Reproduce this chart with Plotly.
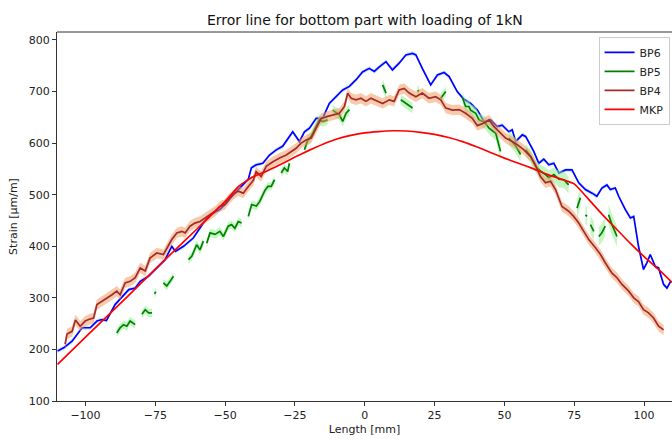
import plotly.graph_objects as go

# ---------------- data ----------------
BP6_x = [-110.0, -107.8, -104.8, -102.4, -101.2, -98.3, -95.9, -94.1, -92.5, -89.4, -86.4, -84.5,
         -82.2, -80.4, -77.4, -75.6, -73.3, -71.5, -69.1, -67.8, -64.9, -61.4, -57.8, -55.4, -51.9,
         -49.5, -47.1, -44.1, -41.7, -40.6, -38.9, -36.5, -34.1, -31.7, -29.4, -25.8, -23.4, -21.6,
         -19.8, -17.4, -15.1, -12.7, -10.3, -7.9, -5.5, -3.1, -0.8, 1.6, 3.4, 5.2, 7.6, 9.9, 12.3,
         14.7, 17.1, 18.3, 20.6, 23.6, 26.0, 28.4, 30.2, 33.1, 35.5, 37.9, 40.3, 42.7, 45.1, 47.4,
         49.2, 51.6, 52.8, 54.0, 56.4, 57.6, 60.5, 62.3, 64.1, 65.9, 67.7, 69.5, 71.9, 74.2, 76.6,
         79.0, 81.4, 83.1, 84.9, 86.7, 87.9, 89.7, 90.9, 93.3, 95.1, 96.3, 98.0, 99.8, 101.0, 102.2,
         104.0, 105.2, 107.0, 108.2, 109.5]
BP6_y = [197, 203, 216, 235, 242, 242, 255, 258, 256, 287, 306, 316,
         319, 332, 342, 352, 364, 374, 400, 390, 400, 416, 445, 461, 471,
         484, 500, 516, 530, 552, 558, 561, 577, 587, 594, 622, 603, 622,
         629, 648, 648, 677, 690, 703, 710, 723, 738, 745, 739, 748, 758, 742, 755,
         771, 774, 771, 745, 713, 732, 737, 729, 700, 685, 677, 664, 642, 645, 632,
         635, 622, 626, 603, 616, 613, 584, 561, 569, 558, 561, 542, 548, 548, 523,
         510, 503, 497, 513, 519, 510, 513, 497, 471, 455, 458, 400, 355, 368, 384,
         361, 358, 326, 319, 332]
BP6_spread = 4

BP4_x = [-107.3, -106.6, -104.8, -103.6, -101.9, -100.1, -98.9, -97.1, -95.9, -94.1, -92.3, -90.5,
         -88.8, -87.6, -85.8, -84.0, -82.2, -80.4, -78.6, -76.9, -74.5, -72.1, -69.1, -67.3, -65.5,
         -64.3, -62.6, -60.8, -59.0, -57.2, -55.4, -53.6, -51.9, -50.1, -48.3, -46.5, -45.3, -43.5,
         -41.7, -39.9, -38.9, -37.1, -35.3, -32.9, -30.5, -28.1, -24.6, -22.8, -21.0, -19.2, -17.4,
         -15.6, -13.3, -10.9, -9.1, -7.3, -6.1, -4.9, -3.1, -1.4, 0.4, 2.2, 4.6, 6.4, 8.8, 10.5,
         12.3, 14.1, 15.9, 18.3, 20.6, 23.0, 25.4, 27.2, 29.0, 31.4, 33.8, 36.1, 38.5, 40.3, 42.7,
         44.5, 46.3, 48.0, 50.4, 52.8, 54.6, 57.0, 59.4, 61.1, 62.9, 64.7, 66.5, 68.3, 70.6, 73.0,
         74.8, 76.6, 78.4, 80.2, 82.6, 84.4, 86.1, 88.5, 90.3, 92.1, 94.5, 96.3, 98.0, 99.8, 101.6,
         103.4, 105.2, 107.0]
BP4_y = [210, 230, 235, 257, 245, 255, 258, 261, 287, 293, 300, 306,
         313, 306, 329, 332, 339, 358, 352, 377, 387, 384, 413, 426, 429,
         426, 439, 445, 448, 455, 461, 468, 477, 481, 494, 503, 507, 503,
         516, 528, 545, 535, 555, 564, 571, 577, 590, 600, 606, 610, 629,
         648, 652, 655, 658, 671, 697, 687, 684, 687, 681, 687, 681, 677, 684, 681,
         703, 706, 697, 690, 697, 687, 690, 684, 668, 664, 665, 658, 648, 634, 639,
         645, 632, 622, 610, 603, 597, 587, 574, 558, 535, 523, 526, 510, 477, 468,
         458, 445, 429, 413, 397, 384, 368, 348, 339, 326, 313, 300, 293, 277, 271,
         261, 245, 238]
BP4_spread = 10

BP5_x = [-88.8, -87.6, -86.4, -85.2, -84.0, -82.2, None,
         -79.8, -78.6, -77.4, -76.2, None,
         -75.3, -74.8, None,
         -72.1, -70.9, -69.7, -68.5, None,
         -63.1, -61.9, -60.2, -59.0, -57.8, None,
         -56.6, -55.4, -53.6, -51.9, -50.6, -48.9, -47.7, -46.5, -45.3, -44.1, None,
         -41.7, -40.5, -38.8, -37.6, -35.8, -34.7, -33.5, -32.3, None,
         -29.9, -28.8, -27.6, -27.0, None,
         -21.6, -20.4, -19.2, -18.0, -16.3, -15.1, -13.3, None,
         -11.5, -9.1, -7.9, -6.7, -5.5, None,
         6.4, 7.6, None,
         12.9, 14.7, 16.5, 17.1, None,
         18.9, 19.4, None,
         27.2, 28.4, 29.0, None,
         35.0, 36.1, 37.3, 37.9, 39.7, 40.9, 43.0, 44.5, 46.9, 48.6, None,
         51.6, 54.0, 55.8, None,
         57.6, 59.4, 61.1, 62.9, 64.7, 65.9, 67.7, 69.5, 71.3, 73.0, None,
         76.0, 77.2, None,
         79.0, 79.6, None,
         80.8, 82.0, None,
         83.8, 84.9, 86.1, None,
         87.3, 88.5, 90.3]
BP5_y = [232, 242, 248, 245, 255, 248, None,
         268, 277, 271, 271, None,
         308, 312, None,
         329, 323, 332, 342, None,
         374, 381, 403, 393, 410, None,
         406, 426, 423, 429, 419, 439, 442, 435, 448, 445, None,
         458, 481, 478, 487, 508, 516, 516, 529, None,
         542, 552, 545, 561, None,
         587, 606, 613, 626, 645, 642, 645, None,
         664, 655, 642, 658, 665, None,
         713, 697, None,
         684, 677, 671, 668, None,
         700, 703, None,
         687, 697, 700, None,
         688, 671, 671, 664, 658, 645, 640, 629, 619, 584, None,
         610, 595, 578, None,
         587, 574, 555, 546, 539, 533, 539, 530, 529, 519, None,
         474, 494, None,
         461, 458, None,
         442, 429, None,
         419, 426, 439, None,
         461, 442, 419]
BP5_err = [8, 8, 8, 8, 8, 8, None,
           8, 8, 8, 8, None,
           8, 8, None,
           8, 8, 8, 8, None,
           8, 8, 8, 8, 8, None,
           8, 8, 8, 8, 8, 8, 8, 8, 8, 8, None,
           8, 8, 8, 8, 8, 8, 8, 8, None,
           8, 8, 8, 8, None,
           10, 10, 10, 10, 10, 10, 10, None,
           10, 10, 10, 10, 10, None,
           12, 12, None,
           10, 10, 10, 10, None,
           10, 10, None,
           10, 10, 10, None,
           12, 12, 12, 12, 12, 12, 12, 12, 14, 16, None,
           14, 14, 14, None,
           12, 12, 12, 12, 14, 14, 14, 16, 16, 16, None,
           18, 18, None,
           18, 18, None,
           18, 18, None,
           18, 18, 18, None,
           20, 20, 20]

MKP_x = [-110, -100, -90, -80, -70, -60, -50, -45, -40, -35, -30, -25, -20, -15, -10, -5, 0, 5,
         10, 15, 20, 25, 30, 35, 40, 45, 50, 55, 60, 65, 70, 75, 80, 85, 90, 95, 100, 105, 110]
MKP_y = [171, 224, 276, 329, 382, 434, 487, 517, 535, 546, 559, 573, 586, 598, 608, 615, 620, 622.5,
         624, 623.5, 621, 617, 611, 603, 593, 582, 571, 561, 551, 540, 531, 521, 492, 462, 434, 406,
         380, 356, 330]

X_TICKS = [-100, -75, -50, -25, 0, 25, 50, 75, 100]
Y_TICKS = [100, 200, 300, 400, 500, 600, 700, 800]


def band_polygon(xs, ys, es):
    """Closed polygons (one per gap-free segment) for the shaded error band."""
    px, py = [], []
    seg = []

    def flush(seg):
        if not seg:
            return
        sx = [s[0] for s in seg]
        up = [s[1] + s[2] for s in seg]
        lo = [s[1] - s[2] for s in seg]
        px.extend(sx + sx[::-1] + [sx[0], None])
        py.extend(up + lo[::-1] + [up[0], None])

    for x, y, e in zip(xs, ys, es):
        if y is None:
            flush(seg)
            seg = []
        else:
            seg.append((x, y, e))
    flush(seg)
    return px, py


fig = go.Figure()

# BP6
bx, by = band_polygon(BP6_x, BP6_y, [BP6_spread] * len(BP6_x))
fig.add_trace(go.Scatter(x=bx, y=by, fill="toself", mode="lines", line=dict(width=0),
                         fillcolor="rgba(150,200,255,0.45)", showlegend=False, hoverinfo="skip"))
fig.add_trace(go.Scatter(x=BP6_x, y=BP6_y, mode="lines", name="BP6",
                         line=dict(color="#0000ff", width=1.7)))

# BP5
bx, by = band_polygon(BP5_x, BP5_y, BP5_err)
fig.add_trace(go.Scatter(x=bx, y=by, fill="toself", mode="lines", line=dict(width=0),
                         fillcolor="rgba(144,238,144,0.55)", showlegend=False, hoverinfo="skip"))
fig.add_trace(go.Scatter(x=BP5_x, y=BP5_y, mode="lines", name="BP5", connectgaps=False,
                         line=dict(color="#008000", width=1.7)))

# BP4
bx, by = band_polygon(BP4_x, BP4_y, [BP4_spread] * len(BP4_x))
fig.add_trace(go.Scatter(x=bx, y=by, fill="toself", mode="lines", line=dict(width=0),
                         fillcolor="rgba(240,150,90,0.5)", showlegend=False, hoverinfo="skip"))
fig.add_trace(go.Scatter(x=BP4_x, y=BP4_y, mode="lines", name="BP4",
                         line=dict(color="#a52a2a", width=1.7)))

# MKP
fig.add_trace(go.Scatter(x=MKP_x, y=MKP_y, mode="lines", name="MKP",
                         line=dict(color="#ff0000", width=1.7, shape="spline", smoothing=0.4)))

font = "DejaVu Sans, Arial, sans-serif"
fig.update_layout(
    width=672, height=439,
    margin=dict(l=57, r=0, t=32, b=38),
    paper_bgcolor="white", plot_bgcolor="white",
    font=dict(family=font, size=11, color="#222"),
    title=dict(text="Error line for bottom part with loading of 1kN", x=0.543, xanchor="center",
               y=1 - 20 / 439, yanchor="middle", font=dict(size=14, color="#111")),
    xaxis=dict(range=[-110.2, 110], tickvals=X_TICKS, showgrid=False, zeroline=False,
               showline=True, linecolor="#333", linewidth=1, ticks="outside", ticklen=4,
               tickcolor="#333", title=dict(text="Length [mm]", standoff=4, font=dict(size=11))),
    yaxis=dict(range=[100, 815.5], tickvals=Y_TICKS, showgrid=False, zeroline=False,
               showline=True, linecolor="#333", linewidth=1, ticks="outside", ticklen=4,
               tickcolor="#333", title=dict(text="Strain [µm/m]", standoff=8, font=dict(size=11))),
    legend=dict(x=0.996, y=0.987, xanchor="right", yanchor="top", bgcolor="rgba(255,255,255,0.85)",
                bordercolor="#cccccc", borderwidth=1, font=dict(size=11, color="#222"),
                tracegroupgap=0, itemwidth=30),
    showlegend=True,
)
fig.add_shape(type="line", xref="paper", yref="paper", x0=0, x1=1, y0=1, y1=1,
              line=dict(color="#333", width=1))

fig.write_html("out.html")
